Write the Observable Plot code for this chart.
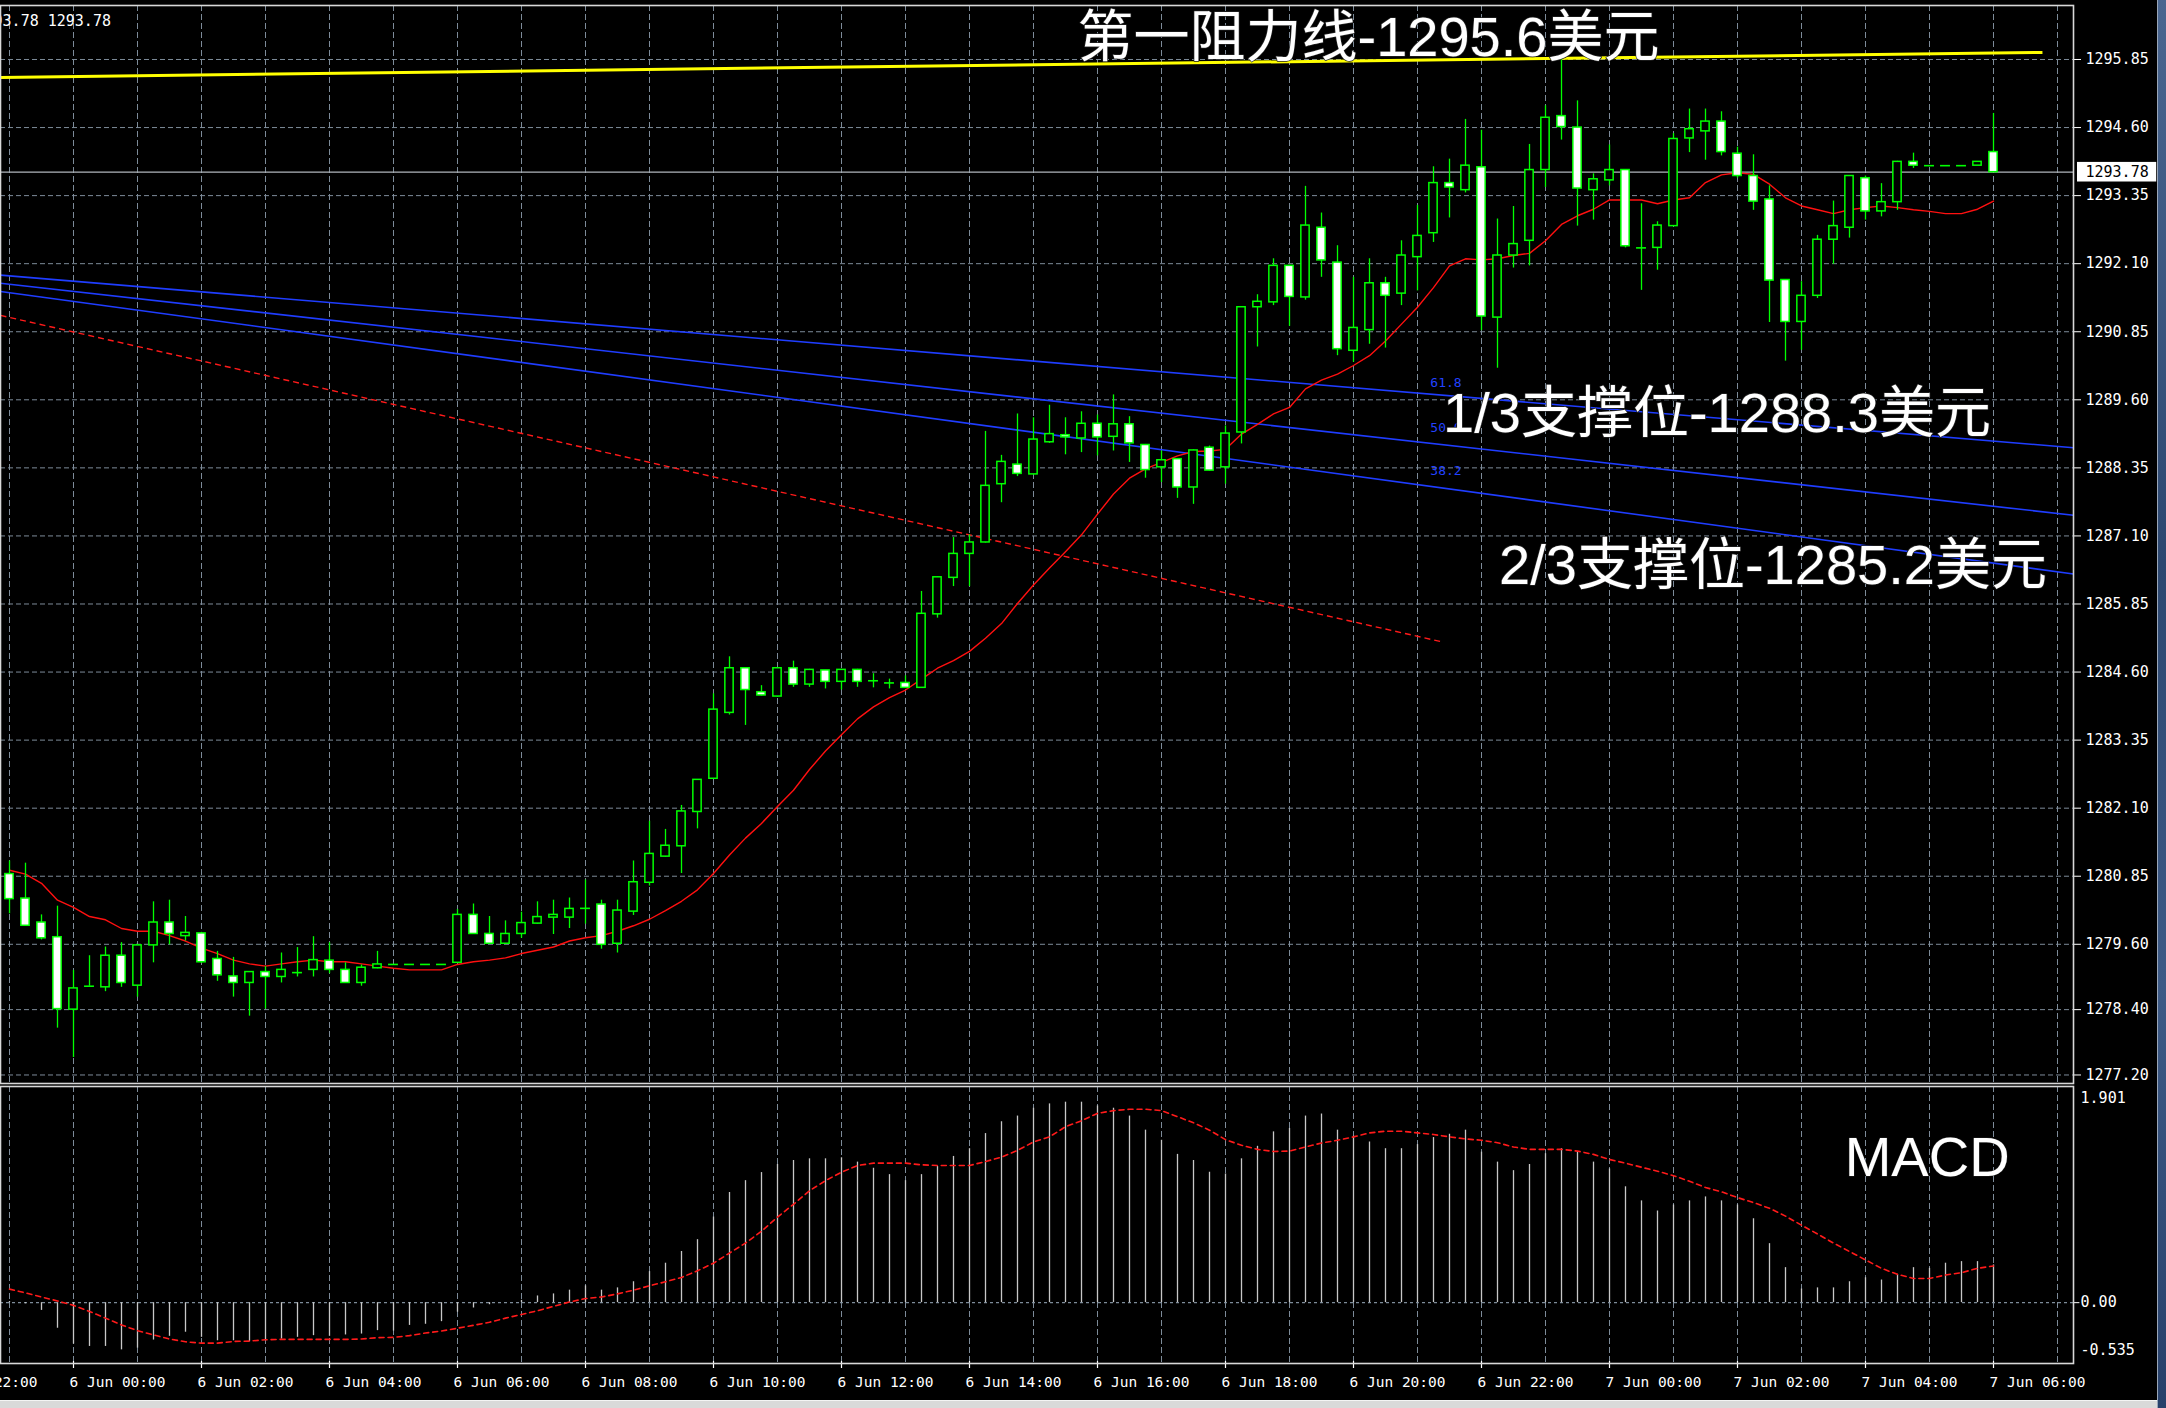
<!DOCTYPE html>
<html><head><meta charset="utf-8">
<script src="https://cdn.jsdelivr.net/npm/d3@7"></script>
<script src="https://cdn.jsdelivr.net/npm/@observablehq/plot@0.6"></script>
<style>
html,body{margin:0;padding:0;background:#000;}
#wrap{position:relative;width:2166px;height:1408px;overflow:hidden;background:#000;}
#main{position:absolute;left:0;top:0;}
#macd{position:absolute;left:0;top:1085px;}
#rstrip{position:absolute;left:2157px;top:0;width:9px;height:1408px;background:linear-gradient(180deg,#4a6690,#2c4770 40%,#3d5a86 70%,#27406a);border-left:1px solid #9aa6b8;}
#bstrip{position:absolute;left:0;top:1400px;width:2157px;height:8px;background:#d9d9d9;border-top:1px solid #f4f4f4;}
</style></head>
<body><div id="wrap"><div id="main"></div><div id="macd"></div><div id="rstrip"></div><div id="bstrip"></div></div>
<script>
// ---------------- data (15-minute bars, first bar = 5 Jun 23:00) ----------------
const openP = [1280.89,1280.44,1280.00,1279.73,1278.40,1278.83,1278.81,1279.39,1278.84,1279.58,
 1280.00,1279.75,1279.80,1279.33,1279.01,1278.89,1279.09,1279.00,1279.08,1279.13,
 1279.30,1279.13,1278.89,1279.16,1279.23,1279.23,1279.23,1279.23,1279.26,1280.14,
 1279.79,1279.61,1279.79,1279.98,1280.09,1280.09,1280.26,1280.33,1279.61,1280.20,
 1280.73,1281.21,1281.40,1282.03,1282.64,1283.85,1284.67,1284.23,1284.15,1284.67,
 1284.37,1284.63,1284.42,1284.64,1284.44,1284.40,1284.40,1284.31,1285.66,1286.33,
 1286.77,1286.98,1288.05,1288.41,1288.23,1288.82,1288.95,1288.89,1289.16,1288.92,
 1289.15,1288.77,1288.36,1288.51,1287.99,1288.72,1288.36,1289.00,1291.30,1291.39,
 1292.06,1291.48,1292.76,1292.12,1290.50,1290.88,1291.74,1291.55,1292.22,1292.66,
 1293.58,1293.45,1293.87,1291.11,1292.25,1292.52,1293.82,1294.81,1294.60,1293.45,
 1293.63,1293.82,1292.39,1292.39,1292.79,1294.40,1294.53,1294.71,1294.12,1293.71,
 1293.28,1291.80,1291.03,1291.51,1292.54,1292.76,1293.67,1293.06,1293.23,1293.97,
 1293.90,1293.90,1293.90,1293.90,1294.15];
const highP = [1281.13,1281.09,1280.14,1280.30,1279.12,1279.39,1279.55,1279.63,1279.60,1280.38,
 1280.41,1280.11,1279.82,1279.47,1279.36,1279.09,1279.19,1279.44,1279.54,1279.74,
 1279.63,1279.26,1279.22,1279.47,1279.23,1279.23,1279.23,1279.23,1280.24,1280.34,
 1280.11,1280.03,1280.19,1280.38,1280.41,1280.45,1280.78,1280.41,1280.41,1281.13,
 1281.86,1281.71,1282.15,1282.62,1284.20,1284.88,1284.68,1284.35,1284.68,1284.80,
 1284.65,1284.63,1284.65,1284.65,1284.57,1284.47,1284.53,1286.08,1286.35,1287.07,
 1287.12,1289.02,1288.58,1289.34,1289.27,1289.50,1289.27,1289.38,1289.32,1289.69,
 1289.29,1288.78,1288.66,1288.52,1288.68,1288.75,1289.12,1291.31,1291.53,1292.19,
 1292.07,1293.52,1293.03,1292.43,1291.85,1292.19,1291.85,1292.52,1293.17,1293.88,
 1294.02,1294.75,1294.55,1292.92,1293.15,1294.29,1295.00,1295.87,1295.09,1293.75,
 1294.28,1293.83,1293.20,1292.87,1294.49,1294.94,1294.94,1294.89,1294.24,1294.10,
 1293.53,1291.80,1291.77,1292.62,1293.25,1293.72,1293.71,1293.57,1293.98,1294.13,
 1293.90,1293.90,1293.90,1293.97,1294.86];
const lowP = [1280.16,1279.93,1279.68,1278.06,1277.52,1278.83,1278.73,1278.81,1278.63,1279.26,
 1279.59,1279.66,1279.25,1278.92,1278.63,1278.28,1278.41,1278.89,1279.00,1279.00,
 1279.06,1278.88,1278.83,1279.15,1279.23,1279.23,1279.23,1279.23,1279.25,1279.78,
 1279.60,1279.60,1279.71,1279.97,1279.78,1279.89,1279.97,1279.51,1279.44,1280.13,
 1280.67,1281.20,1280.90,1281.72,1282.63,1283.81,1283.62,1284.16,1284.14,1284.32,
 1284.32,1284.29,1284.27,1284.32,1284.31,1284.29,1284.30,1284.30,1285.59,1286.17,
 1286.17,1286.97,1287.71,1288.19,1288.22,1288.80,1288.59,1288.63,1288.57,1288.66,
 1288.45,1288.16,1288.08,1287.79,1287.68,1288.29,1288.05,1288.79,1290.57,1291.33,
 1290.95,1291.43,1291.85,1290.41,1290.29,1290.62,1290.55,1291.33,1291.60,1292.49,
 1292.94,1293.40,1290.87,1290.18,1292.02,1292.06,1293.50,1294.37,1292.79,1292.90,
 1293.53,1292.39,1291.61,1291.98,1292.78,1294.14,1294.00,1294.08,1293.67,1293.08,
 1291.02,1290.31,1290.51,1291.46,1292.09,1292.57,1292.90,1292.96,1293.08,1293.85,
 1293.90,1293.90,1293.90,1293.90,1293.78];
const closeP = [1280.43,1279.94,1279.71,1278.41,1278.79,1278.83,1279.39,1278.89,1279.58,1280.00,
 1279.79,1279.81,1279.27,1279.03,1278.89,1279.09,1279.00,1279.13,1279.08,1279.31,
 1279.13,1278.89,1279.17,1279.23,1279.23,1279.23,1279.23,1279.23,1280.14,1279.79,
 1279.61,1279.79,1279.99,1280.10,1280.14,1280.25,1280.26,1279.59,1280.22,1280.74,
 1281.26,1281.41,1282.04,1282.62,1283.91,1284.67,1284.27,1284.17,1284.67,1284.37,
 1284.64,1284.42,1284.64,1284.42,1284.44,1284.40,1284.31,1285.67,1286.34,1286.77,
 1286.98,1288.02,1288.46,1288.24,1288.87,1288.97,1288.91,1289.16,1288.91,1289.15,
 1288.80,1288.31,1288.49,1287.99,1288.67,1288.30,1288.98,1291.30,1291.40,1292.06,
 1291.49,1292.80,1292.16,1290.53,1290.92,1291.74,1291.51,1292.25,1292.61,1293.58,
 1293.50,1293.90,1291.13,1292.25,1292.46,1293.82,1294.78,1294.61,1293.48,1293.65,
 1293.82,1292.42,1292.39,1292.80,1294.39,1294.57,1294.71,1294.15,1293.71,1293.24,
 1291.79,1291.03,1291.51,1292.54,1292.79,1293.71,1293.06,1293.23,1293.97,1293.90,
 1293.90,1293.90,1293.90,1293.97,1293.78];
const maP = [1280.96,1280.89,1280.72,1280.41,1280.28,1280.11,1280.05,1279.89,1279.84,1279.84,
 1279.76,1279.66,1279.53,1279.43,1279.31,1279.24,1279.20,1279.24,1279.28,1279.31,
 1279.28,1279.28,1279.24,1279.20,1279.16,1279.13,1279.13,1279.13,1279.23,1279.28,
 1279.31,1279.35,1279.43,1279.49,1279.55,1279.66,1279.72,1279.76,1279.84,1279.94,
 1280.06,1280.22,1280.39,1280.60,1280.90,1281.24,1281.55,1281.82,1282.13,1282.43,
 1282.81,1283.15,1283.45,1283.74,1283.96,1284.13,1284.27,1284.47,1284.67,1284.81,
 1284.98,1285.22,1285.49,1285.86,1286.20,1286.51,1286.81,1287.12,1287.50,1287.87,
 1288.16,1288.33,1288.45,1288.57,1288.65,1288.66,1288.69,1288.97,1289.15,1289.34,
 1289.46,1289.80,1289.96,1290.07,1290.23,1290.41,1290.68,1290.99,1291.30,1291.66,
 1292.06,1292.19,1292.17,1292.19,1292.25,1292.29,1292.52,1292.82,1292.98,1293.10,
 1293.27,1293.27,1293.27,1293.20,1293.27,1293.31,1293.59,1293.73,1293.77,1293.74,
 1293.56,1293.31,1293.16,1293.09,1293.02,1293.09,1293.13,1293.16,1293.13,1293.09,
 1293.06,1293.02,1293.02,1293.10,1293.25];
const macdHist = [0.01,-0.01,-0.068,-0.225,-0.364,-0.385,-0.385,-0.415,-0.40,-0.329,
 -0.296,-0.26,-0.305,-0.335,-0.335,-0.344,-0.335,-0.32,-0.305,-0.29,
 -0.296,-0.284,-0.276,-0.246,-0.25,-0.20,-0.19,-0.167,-0.084,-0.047,
 -0.018,0.0,0.02,0.059,0.077,0.11,0.148,0.11,0.13,0.184,
 0.273,0.347,0.45,0.554,0.753,0.969,1.073,1.144,1.215,1.25,
 1.265,1.265,1.274,1.236,1.182,1.126,1.073,1.126,1.197,1.286,
 1.354,1.487,1.591,1.641,1.71,1.748,1.763,1.763,1.73,1.71,
 1.641,1.517,1.428,1.304,1.25,1.147,1.132,1.265,1.375,1.502,
 1.532,1.641,1.659,1.517,1.464,1.413,1.354,1.354,1.39,1.452,
 1.481,1.517,1.324,1.236,1.161,1.215,1.31,1.354,1.324,1.236,
 1.176,1.019,0.895,0.806,0.859,0.895,0.93,0.895,0.859,0.738,
 0.519,0.308,0.12,0.13,0.13,0.184,0.219,0.199,0.249,0.308,
 0.302,0.347,0.361,0.361,0.332];
const macdSignal = [0.119,0.086,0.05,0.015,-0.024,-0.077,-0.136,-0.196,-0.246,-0.284,
 -0.32,-0.344,-0.356,-0.356,-0.341,-0.338,-0.326,-0.323,-0.323,-0.323,
 -0.323,-0.323,-0.32,-0.308,-0.305,-0.29,-0.267,-0.249,-0.225,-0.199,
 -0.172,-0.136,-0.104,-0.071,-0.033,0.006,0.036,0.05,0.077,0.11,
 0.148,0.184,0.222,0.281,0.347,0.436,0.524,0.628,0.753,0.865,
 0.984,1.073,1.147,1.206,1.227,1.227,1.227,1.212,1.206,1.206,
 1.206,1.241,1.28,1.339,1.413,1.458,1.547,1.6,1.665,1.689,
 1.701,1.701,1.689,1.636,1.582,1.517,1.434,1.384,1.348,1.33,
 1.333,1.369,1.404,1.428,1.458,1.493,1.508,1.508,1.493,1.479,
 1.458,1.44,1.428,1.407,1.369,1.348,1.348,1.348,1.333,1.304,
 1.259,1.227,1.191,1.156,1.117,1.067,1.013,0.975,0.924,0.88,
 0.83,0.761,0.681,0.604,0.524,0.45,0.376,0.302,0.249,0.213,
 0.213,0.243,0.264,0.302,0.323];
const priceTicks = [1295.85,1294.60,1293.35,1292.10,1290.85,1289.60,1288.35,1287.10,1285.85,1284.60,1283.35,1282.10,1280.85,1279.60,1278.40,1277.20];
const macdTicks = [1.901, 0.00, -0.535];
const timeLabels = ["5 Jun 22:00","6 Jun 00:00","6 Jun 02:00","6 Jun 04:00","6 Jun 06:00","6 Jun 08:00","6 Jun 10:00","6 Jun 12:00","6 Jun 14:00","6 Jun 16:00","6 Jun 18:00","6 Jun 20:00","6 Jun 22:00","7 Jun 00:00","7 Jun 02:00","7 Jun 04:00","7 Jun 06:00"];
const fanNames = ["61.8","50.0","38.2"];
const fanStart = [1291.89, 1291.74, 1291.59];
const fanEnd = [1288.72, 1287.48, 1286.40];
const trendStart = 1291.15, trendEnd = 1285.15;
const resistStart = 1295.52, resistEnd = 1295.98;
const annotations = ["第一阻力线-1295.6美元", "1/3支撑位-1288.3美元", "2/3支撑位-1285.2美元"];

// ---------------- layout ----------------
const N = openP.length;
const xMin = -0.5625, xMax = 129;         // bar index domain (16 px per bar)
const GRID = "#7d8b99", LIME = "#00ff00";
const mono = "DejaVu Sans Mono, monospace";
const big = "Liberation Sans, Noto Sans CJK SC, sans-serif";
const last = closeP[N - 1];

const candles = d3.range(N).map(i => ({i, o: openP[i], h: highP[i], l: lowP[i], c: closeP[i]}));
const bull = candles.filter(d => d.c > d.o);
const bear = candles.filter(d => d.c < d.o);
const doji = candles.filter(d => d.c === d.o);
const hourIdx = d3.range(0, 129, 4);
const timeTicks = timeLabels.map((t, k) => ({i: -4 + 8 * k, t}));
const fans = fanNames.map((n, k) => ({n, a: fanStart[k], b: fanEnd[k]}));
const hw = 0.26;

const main = Plot.plot({
  width: 2166, height: 1085,
  marginLeft: 0, marginRight: 93, marginTop: 5, marginBottom: 2,
  x: {type: "linear", domain: [xMin, xMax], axis: null},
  y: {type: "linear", domain: [1277.0434, 1296.8417], axis: null},
  style: {background: "#000"},
  marks: [
    Plot.ruleY(priceTicks, {stroke: GRID, strokeDasharray: "5,3", strokeWidth: 1}),
    Plot.ruleX(hourIdx, {stroke: GRID, strokeDasharray: "6,3", strokeWidth: 1}),
    Plot.ruleY([last], {stroke: "#b0b6bc", strokeWidth: 1.2}),
    Plot.link(fans, {x1: () => xMin, x2: () => xMax, y1: "a", y2: "b", stroke: "#1f3dff", strokeWidth: 1.6}),
    Plot.link([{a: trendStart, b: trendEnd}], {x1: () => xMin, x2: () => 89.6, y1: "a", y2: "b", stroke: "#ff1a1a", strokeWidth: 1.4, strokeDasharray: "6,4"}),
    Plot.link([{a: resistStart, b: resistEnd}], {x1: () => xMin, x2: () => 127.06, y1: "a", y2: "b", stroke: "#ffff00", strokeWidth: 3}),
    Plot.line(maP.map((v, i) => ({i, v})), {x: "i", y: "v", stroke: "#ff1010", strokeWidth: 1.4}),
    Plot.ruleX(candles, {x: "i", y1: "l", y2: "h", stroke: LIME, strokeWidth: 1.3}),
    Plot.rect(bull, {x1: d => d.i - hw, x2: d => d.i + hw, y1: "o", y2: "c", fill: "#000", stroke: LIME, strokeWidth: 1.5}),
    Plot.rect(bear, {x1: d => d.i - hw, x2: d => d.i + hw, y1: "o", y2: "c", fill: "#fff", stroke: LIME, strokeWidth: 1.5}),
    Plot.ruleY(doji, {y: "o", x1: d => d.i - hw - 0.05, x2: d => d.i + hw + 0.05, stroke: LIME, strokeWidth: 1.6}),
    Plot.text(fans, {x: () => 88.8, y: (d, k) => [1289.92, 1289.09, 1288.30][k], text: "n", fill: "#2242ff", fontFamily: mono, fontSize: 13, textAnchor: "start"}),
    Plot.text(annotations, {x: (d, k) => [66.75, 89.6, 93.1][k], y: (d, k) => [1296.25, 1289.33, 1286.54][k], text: d => d, fill: "#fff", stroke: "#222", strokeWidth: 1.5, paintOrder: "stroke", fontFamily: big, fontSize: 56, textAnchor: "start"}),
    Plot.ruleY(priceTicks, {x1: () => xMax, x2: () => xMax + 0.5, stroke: "#fff", strokeWidth: 1}),
    Plot.text(priceTicks, {x: () => 129.75, y: d => d, text: d => d.toFixed(2), fill: "#fff", fontFamily: mono, fontSize: 15, textAnchor: "start"}),
    Plot.rect([last], {x1: () => 129.25, x2: () => 134.2, y1: d => d - 0.18, y2: d => d + 0.18, fill: "#fff"}),
    Plot.text([last], {x: () => 129.75, y: d => d, text: d => d.toFixed(2), fill: "#000", fontFamily: mono, fontSize: 15, textAnchor: "start"}),
    Plot.text([`${last.toFixed(2)} ${last.toFixed(2)}`], {frameAnchor: "top-left", text: d => d, dx: -25, dy: 16, lineAnchor: "middle", textAnchor: "start", fill: "#fff", fontFamily: mono, fontSize: 15}),
    Plot.frame({stroke: "#d8d8d8", strokeWidth: 1.6})
  ]
});
document.getElementById("main").appendChild(main);

const pxPerUnit = (1362 - 1086) / (1.901 + 0.535);
const labelShift = [12, 0, -13];   // px: top label sits below the panel top, bottom label above the bottom
const macdData = d3.range(N).map(i => ({i, h: macdHist[i], s: macdSignal[i]}));
const macd = Plot.plot({
  width: 2166, height: 323,
  marginLeft: 0, marginRight: 93, marginTop: 1, marginBottom: 45,
  x: {type: "linear", domain: [xMin, xMax], axis: null},
  y: {type: "linear", domain: [-0.535, 1.901], axis: null},
  style: {background: "#000"},
  marks: [
    Plot.ruleX(hourIdx, {stroke: GRID, strokeDasharray: "6,3", strokeWidth: 1}),
    Plot.ruleY([0], {stroke: GRID, strokeDasharray: "3,3", strokeWidth: 1.2}),
    Plot.ruleX(macdData, {x: "i", y1: 0, y2: "h", stroke: "#c8c8c8", strokeWidth: 1.3}),
    Plot.line(macdData, {x: "i", y: "s", stroke: "#ff1a1a", strokeWidth: 1.6, strokeDasharray: "5,4"}),
    Plot.text(["MACD"], {x: () => 114.7, y: () => 1.274, text: d => d, fill: "#fff", stroke: "#222", strokeWidth: 1, paintOrder: "stroke", fontFamily: big, fontSize: 56, textAnchor: "start"}),
    Plot.text(macdTicks, {x: () => 129.44, y: (d, k) => d - labelShift[k] / pxPerUnit, text: d => d === 0 ? "0.00" : String(d), fill: "#fff", fontFamily: mono, fontSize: 15, textAnchor: "start"}),
    Plot.ruleY([0], {x1: () => xMax, x2: () => xMax + 0.4, stroke: "#fff", strokeWidth: 1}),
    Plot.ruleX(timeTicks, {x: "i", y1: -0.535 + 2 / pxPerUnit, y2: -0.535 - 5 / pxPerUnit, stroke: "#fff", strokeWidth: 1.2}),
    Plot.text(timeTicks, {x: "i", y: () => -0.535 - 19 / pxPerUnit, text: "t", dx: -4, fill: "#fff", fontFamily: mono, fontSize: 14.5, textAnchor: "start"}),
    Plot.frame({stroke: "#d8d8d8", strokeWidth: 1.6})
  ]
});
document.getElementById("macd").appendChild(macd);
</script>
</body></html>
